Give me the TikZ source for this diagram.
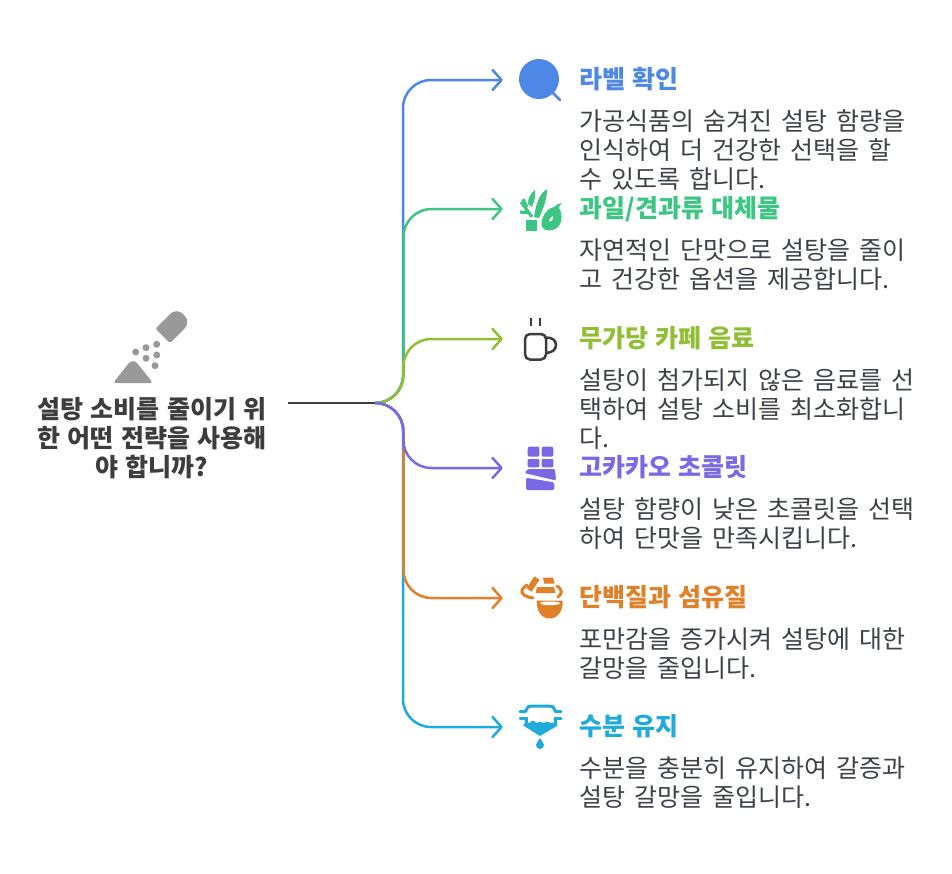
\documentclass[tikz,border=0pt]{standalone}
\usepackage{fontspec}
\setmainfont[WordSpace=1.6,BoldFeatures={WordSpace=1.25}]{Noto Sans CJK KR}
\usepackage{xcolor}
\usetikzlibrary{arrows.meta,positioning}

\definecolor{cblue}{HTML}{4E88E7}
\definecolor{cgreen}{HTML}{3CC583}
\definecolor{colive}{HTML}{90BE34}
\definecolor{cpurple}{HTML}{7B68E4}
\definecolor{corange}{HTML}{E08029}
\definecolor{ccyan}{HTML}{1EABDA}
\definecolor{ctext}{HTML}{3D4148}
\definecolor{cdark}{HTML}{3D3D3D}
\definecolor{cgrey}{HTML}{999999}

\begin{document}
\begin{tikzpicture}[
  x=1pt, y=-1pt,
  node distance=2pt,
  iconbox/.style={inner sep=0pt, minimum width=74pt, minimum height=40pt},
  head/.style={inner sep=0pt, align=left, font=\fontsize{25}{29}\selectfont\bfseries, text height=21pt, text depth=4pt},
  body/.style={inner sep=0pt, align=left, text=ctext, font=\fontsize{25}{29}\selectfont, anchor=north west},
  title/.style={inner sep=0pt, align=center, text=cdark, minimum width=272pt, font=\fontsize{25}{29}\selectfont\bfseries},
  link/.style={-{Straight Barb[length=9pt,width=20pt,round]}, line width=2.5pt, rounded corners=28pt}
]
\useasboundingbox (0,0) rectangle (952,873);
\fill[white] (0,0) rectangle (952,873);

\node[title] (title) at (152,438) {설탕 소비를 줄이기 위\\한 어떤 전략을 사용해\\야 합니까?};
\coordinate (start) at (288,403);
\coordinate (hub) at (376,403);

\node[iconbox] (icon1) at (540,80) {};
\node[iconbox] (icon2) at (540,209) {};
\node[iconbox] (icon3) at (540,339) {};
\node[iconbox] (icon4) at (540,468) {};
\node[iconbox] (icon5) at (540,598) {};
\node[iconbox] (icon6) at (540,727) {};

\coordinate (bend1) at (403,80);
\coordinate (bend2) at (403.5,209);
\coordinate (bend3) at (403.3,339);
\coordinate (bend4) at (403.3,468);
\coordinate (bend5) at (403.5,598);
\coordinate (bend6) at (403,727);

\node[head, text=cblue, right=of icon1] (head1) {라벨 확인};
\node[body, below=17pt of head1.south west, anchor=north west] (body1) {가공식품의 숨겨진 설탕 함량을\\인식하여 더 건강한 선택을 할\\수 있도록 합니다.};
\node[head, text=cgreen, right=of icon2] (head2) {과일/견과류 대체물};
\node[body, below=17pt of head2.south west, anchor=north west] (body2) {자연적인 단맛으로 설탕을 줄이\\고 건강한 옵션을 제공합니다.};
\node[head, text=colive, right=of icon3] (head3) {무가당 카페 음료};
\node[body, below=17pt of head3.south west, anchor=north west] (body3) {설탕이 첨가되지 않은 음료를 선\\택하여 설탕 소비를 최소화합니\\다.};
\node[head, text=cpurple, right=of icon4] (head4) {고카카오 초콜릿};
\node[body, below=17pt of head4.south west, anchor=north west] (body4) {설탕 함량이 낮은 초콜릿을 선택\\하여 단맛을 만족시킵니다.};
\node[head, text=corange, right=of icon5] (head5) {단백질과 섬유질};
\node[body, below=17pt of head5.south west, anchor=north west] (body5) {포만감을 증가시켜 설탕에 대한\\갈망을 줄입니다.};
\node[head, text=ccyan, right=of icon6] (head6) {수분 유지};
\node[body, below=17pt of head6.south west, anchor=north west] (body6) {수분을 충분히 유지하여 갈증과\\설탕 갈망을 줄입니다.};

\draw[line width=2.5pt, color=cdark] (start) -- (hub);
\draw[link, cblue] (hub) -| (bend1) -- (icon1.west);
\draw[link, cgreen] (hub) -| (bend2) -- (icon2.west);
\draw[link, colive] (hub) -| (bend3) -- (icon3.west);
\draw[link, ccyan] (hub) -| (bend6) -- (icon6.west);
\draw[link, corange] (hub) -| (bend5) -- (icon5.west);
\draw[link, cpurple] (hub) -| (bend4) -- (icon4.west);

% sugar shaker
\fill[cgrey, rounded corners=2pt] (155.5,328.5) -- (170,343) [rounded corners=9pt] -- (191,322) -- (176.5,307.5) [rounded corners=2pt] -- cycle;
\foreach \dx/\dy in {135.7/352,146/347.7,156.7/344.3,146/358.3,156.7/355,155/365.7}
  \fill[cgrey] (\dx,\dy) circle (3.5);
\fill[cgrey, rounded corners=3pt] (113,383) -- (153,383) [rounded corners=7pt] -- (133,358) [rounded corners=3pt] -- cycle;

% magnifier
\fill[cblue] (539,79) circle (20);
\draw[cblue, line width=2.5pt, line cap=round] (553,93) -- (560,100);

% plant and pear
\fill[cgreen] (526,220) rectangle (536.7,231);
\fill[cgreen] (534,217) .. controls (536,204) and (539,194) .. (547,189) .. controls (547,200) and (543,209) .. (539,218) -- cycle;
\fill[cgreen] (528,204) .. controls (528,197) and (531,193) .. (535,190) .. controls (536,196) and (534,202) .. (532,207) -- cycle;
\draw[cgreen, line width=3pt] (521,202) -- (532,217) (523,199) -- (527,207) (520,212) -- (530,213);
\fill[cgreen, even odd rule] (541.5,223) .. controls (542,215) and (548,208) .. (554,207) .. controls (556,205) and (559,203) .. (562,203) .. controls (560,205) and (559,206) .. (559,208) .. controls (563,214) and (563,226) .. (554,229.5) .. controls (549,231.5) and (541,231) .. (541.5,223) -- cycle
  (549,221.5) .. controls (549,218) and (552,216) .. (553,216) .. controls (553.5,219) and (552,222) .. (549,221.5) -- cycle;

% coffee mug
\draw[cdark, line width=2.5pt] (531,318) -- (531,326) (540,318) -- (540,326);
\draw[cdark, line width=2.5pt, rounded corners=5pt] (525,334) -- (546,334) -- (546,359.5) -- (525,359.5) -- cycle;
\draw[cdark, line width=2.5pt] (546,337.5) .. controls (552,337.5) and (556,340) .. (556,345) .. controls (556,350) and (552,352.5) .. (546,353);

% chocolate bar
\fill[cpurple, rounded corners=2pt] (527.7,446.7) rectangle (539.3,456.7);
\fill[cpurple, rounded corners=2pt] (541.7,446.7) rectangle (553.3,456.7);
\fill[cpurple, rounded corners=1pt] (527.7,459) rectangle (539.3,467.3);
\fill[cpurple, rounded corners=1pt] (541.7,459) rectangle (553.3,467.3);
\fill[cpurple, rounded corners=1.5pt] (524.3,473) -- (528,469) -- (555,469) -- (556,480.5) -- cycle;
\fill[cpurple, rounded corners=2pt] (526,477.8) -- (554.3,482.3) -- (554.3,490) -- (526,490) -- cycle;

% bowl with bars
\fill[corange] (536.7,600.7) -- (562.7,600.7) .. controls (563,612) and (557,618.5) .. (549.7,618.5) .. controls (542,618.5) and (536.5,612) .. (536.7,600.7) -- cycle;
\fill[white] (550,603.3) ellipse (10 and 1.8);
\draw[corange, line width=6pt] (529,590) -- (537,578);
\fill[corange] (543,577.5) -- (553,577.5) -- (554.5,583.5) -- (544,583.5) -- cycle;
\fill[corange] (537,587) -- (554,587) -- (555.5,593) -- (535.5,593) -- cycle;
\draw[corange, line width=3pt, line cap=round] (533,598) .. controls (525,597) and (516,592) .. (527,585);
\draw[corange, line width=3pt, line cap=round] (557,586) .. controls (563,590) and (562,594) .. (558,597);

% water filter
\draw[ccyan, line width=3pt, line cap=round] (520,711.7) -- (525,711.7) .. controls (527,711) and (526,706) .. (531,706) -- (550,706) .. controls (555,706) and (554,711) .. (556,711.7) -- (561,711.7);
\draw[ccyan, line width=3pt, line cap=round] (520,718.3) -- (526,718.3) -- (526,724) (561,718.3) -- (555,718.3) -- (555,724);
\fill[ccyan] (523.3,725.5) .. controls (525,720) and (528,724) .. (530,722.5) .. controls (532,720) and (534,720) .. (536,723) .. controls (538,723.5) and (540,720) .. (542,722.5) .. controls (545,724) and (547,720) .. (549,722.5) .. controls (552,724) and (555,720) .. (557.7,725.5) -- (540,736) -- cycle;
\fill[ccyan] (540,738) .. controls (541,741) and (544,742.5) .. (544,745) arc (0:180:4) .. controls (536,742.5) and (539,741) .. (540,738) -- cycle;
\end{tikzpicture}
\end{document}
